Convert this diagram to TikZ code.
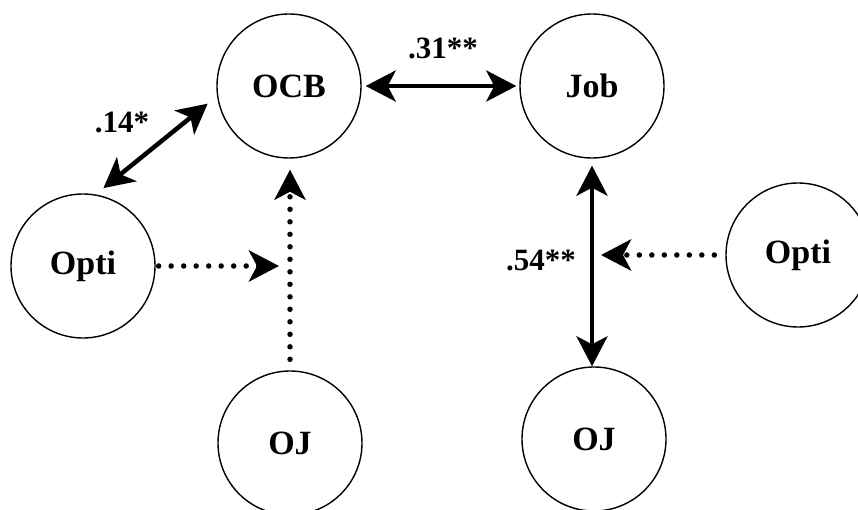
\documentclass[tikz,border=0pt]{standalone}
\usepackage{fontspec}
\setmainfont{Liberation Serif}
\usetikzlibrary{arrows.meta,calc}
\begin{document}
\begin{tikzpicture}[x=1pt,y=-1pt,
  var/.style={circle,draw,line width=1.4pt,minimum size=144pt,inner sep=0pt,font=\fontsize{34}{38}\selectfont\bfseries},
  lab/.style={font=\fontsize{31}{34}\selectfont\bfseries,inner sep=0pt},
  tip/.tip={Stealth[length=30pt,width=31pt,inset=8pt]},
  sarrow/.style={line width=4.5pt,{tip}-{tip}},
  darrow/.style={line width=5.5pt,line cap=round,dash pattern=on 0pt off 12.5pt,-{tip}},
]
\useasboundingbox (0,0) rectangle (858,510);
\node[var] (OCB) at (289,86) {OCB};
\node[var] (Job) at (592,86) {Job};
\node[var] (OptiL) at (83,266) {Opti};
\node[var] (OptiR) at (798,255) {Opti};
\node[var] (OJL) at (290,443) {OJ};
\node[var] (OJR) at (594,439) {OJ};

\draw[sarrow,shorten <=4pt,shorten >=3pt] (OCB.east) -- (Job.west);
\draw[sarrow,shorten <=7pt] (Job.south) -- (Job.south |- OJR.north);
\draw[sarrow,shorten <=10pt,shorten >=12pt] (OptiL.80) -- (OCB.188);

\draw[darrow,shorten <=11pt,shorten >=11pt] (OJL.north) -- (OJL.north |- OCB.south);
\draw[darrow,shorten <=3pt,shorten >=10pt] (OptiL.east) -- (OptiL.east -| OCB.south);
\draw[darrow,shorten <=11pt,shorten >=9pt] (OptiR.west) -- (OptiR.west -| Job.south);

\node[lab] (l1) at (443,48) {.31**};
\node[lab] (l2) at (122,122) {.14*};
\node[lab] (l3) at (541,260) {.54**};
\end{tikzpicture}
\end{document}
